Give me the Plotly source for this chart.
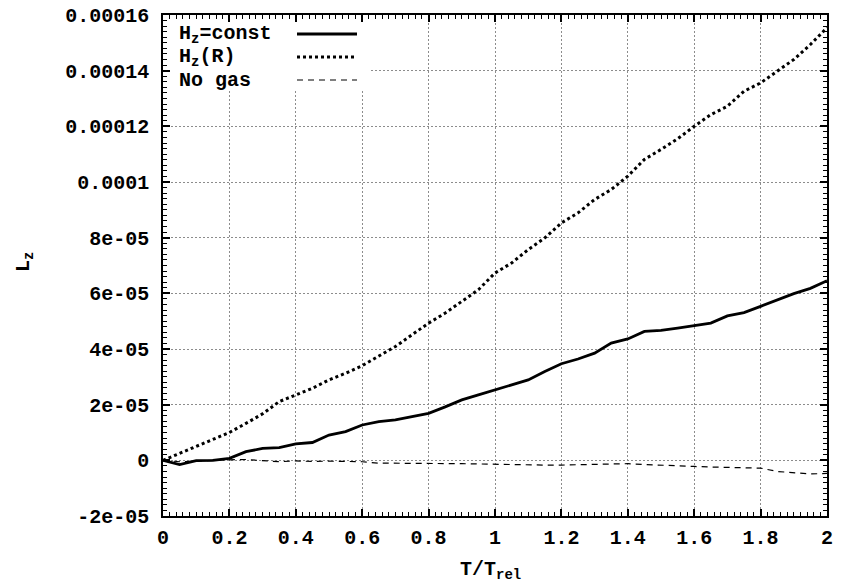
import plotly.graph_objects as go
import numpy as np

# ---- data (L_z values in units of 1e-5) ----
t_values = [0.0, 0.05, 0.1, 0.15, 0.2, 0.25, 0.3, 0.35, 0.4, 0.45, 0.5, 0.55, 0.6, 0.65, 0.7,
            0.75, 0.8, 0.85, 0.9, 0.95, 1.0, 1.05, 1.1, 1.15, 1.2, 1.25, 1.3, 1.35, 1.4, 1.45,
            1.5, 1.55, 1.6, 1.65, 1.7, 1.75, 1.8, 1.85, 1.9, 1.95, 2.0]
hz_const = [0, -0.15, -0.01, 0.0, 0.07, 0.31, 0.43, 0.46, 0.59, 0.64, 0.91, 1.03, 1.27, 1.39, 1.45,
            1.58, 1.69, 1.92, 2.17, 2.35, 2.53, 2.72, 2.89, 3.19, 3.47, 3.64, 3.85, 4.21, 4.36, 4.63,
            4.67, 4.75, 4.83, 4.93, 5.19, 5.31, 5.53, 5.77, 5.99, 6.18, 6.45]
hz_r = [0, 0.25, 0.49, 0.75, 1.0, 1.33, 1.67, 2.11, 2.35, 2.59, 2.89, 3.13, 3.4, 3.73, 4.09,
        4.51, 4.93, 5.29, 5.71, 6.13, 6.73, 7.09, 7.57, 7.99, 8.53, 8.89, 9.37, 9.73, 10.21, 10.81,
        11.17, 11.55, 12.0, 12.42, 12.72, 13.26, 13.56, 13.98, 14.4, 14.94, 15.54]
no_gas = [0, -0.05, -0.03, 0.0, 0.02, 0.03, 0.0, -0.05, -0.02, -0.04, -0.03, -0.04, -0.05, -0.1, -0.1,
          -0.1, -0.11, -0.12, -0.12, -0.13, -0.14, -0.17, -0.17, -0.17, -0.17, -0.16, -0.15, -0.13, -0.12, -0.15,
          -0.18, -0.2, -0.22, -0.24, -0.25, -0.26, -0.28, -0.4, -0.44, -0.49, -0.47]
scale = 1e-5

x_tickvals = [0, 0.2, 0.4, 0.6, 0.8, 1.0, 1.2, 1.4, 1.6, 1.8, 2.0]
x_ticktext = ["0", "0.2", "0.4", "0.6", "0.8", "1", "1.2", "1.4", "1.6", "1.8", "2"]
y_tickvals = [-2e-5, 0, 2e-5, 4e-5, 6e-5, 8e-5, 1e-4, 1.2e-4, 1.4e-4, 1.6e-4]
y_ticktext = ["-2e-05", "0", "2e-05", "4e-05", "6e-05", "8e-05", "0.0001", "0.00012", "0.00014", "0.00016"]

legend_labels = ["H<sub>z</sub>=const", "H<sub>z</sub>(R)", "No gas"]

FONT = "Liberation Mono, Courier New, monospace"
XR = [0, 2]
YR = [-2e-5, 1.6e-4]

fig = go.Figure()
t = np.array(t_values)
fig.add_trace(go.Scatter(x=t, y=np.array(hz_const) * scale, mode="lines",
                         line=dict(color="black", width=2.8), showlegend=False))
fig.add_trace(go.Scatter(x=t, y=np.array(hz_r) * scale, mode="lines",
                         line=dict(color="black", width=3, dash="3px,3px"), showlegend=False))
fig.add_trace(go.Scatter(x=t, y=np.array(no_gas) * scale, mode="lines",
                         line=dict(color="black", width=1.2, dash="6px,5px"), showlegend=False))

W, H = 842, 587
L, R, T, B = 163, 15, 15, 71
pw, ph = W - L - R, H - T - B

def px_x(px):
    return (px - L) / pw

def px_y(py):
    return (H - B - py) / ph

def dx(px):
    return XR[0] + px_x(px) * (XR[1] - XR[0])

def dy(py):
    return YR[0] + px_y(py) * (YR[1] - YR[0])

axis_common = dict(
    showline=True, linecolor="black", linewidth=1.5, mirror="allticks",
    ticks="inside", ticklen=7, tickwidth=1.5, tickcolor="black",
    showgrid=True, gridcolor="#8c8c8c", griddash="2px,2px", gridwidth=1,
    zeroline=False, automargin=False,
    tickfont=dict(family=FONT, size=20, color="black", weight="bold"),
)

fig.update_xaxes(range=XR, tickvals=x_tickvals, ticktext=x_ticktext,
                 ticklabelstandoff=2,
                 minor=dict(dtick=0.02, ticks="inside", ticklen=4, tickcolor="black", tickwidth=1, showgrid=False),
                 **axis_common)
fig.update_yaxes(range=YR, tickvals=y_tickvals, ticktext=y_ticktext,
                 ticklabelstandoff=8,
                 minor=dict(dtick=2e-6, tick0=0, ticks="inside", ticklen=4, tickcolor="black", tickwidth=1, showgrid=False),
                 **axis_common)

shapes = []
# legend background box covering the grid
shapes.append(dict(type="rect", xref="x", yref="y",
                   x0=XR[0], x1=dx(370), y0=dy(90), y1=YR[1],
                   fillcolor="white", line=dict(width=0), layer="between"))
legend_rows = [34, 57, 80]
legend_styles = [dict(color="black", width=2.8),
                 dict(color="black", width=3, dash="3px,3px"),
                 dict(color="black", width=1.2, dash="6px,5px")]
annotations = []
for lab, row, sty in zip(legend_labels, legend_rows, legend_styles):
    shapes.append(dict(type="line", xref="paper", yref="paper",
                       x0=px_x(297), x1=px_x(357), y0=px_y(row), y1=px_y(row),
                       line=sty, layer="above"))
    annotations.append(dict(text=lab, xref="paper", yref="paper",
                            x=px_x(177), y=px_y(row), xanchor="left", yanchor="middle",
                            showarrow=False,
                            font=dict(family=FONT, size=20, color="black", weight="bold")))

# axis titles
annotations.append(dict(text="T/T<sub>rel</sub>", xref="paper", yref="paper",
                        x=px_x(490), y=px_y(570), xanchor="center", yanchor="middle",
                        showarrow=False,
                        font=dict(family=FONT, size=20, color="black", weight="bold")))
annotations.append(dict(text="L<sub>z</sub>", xref="paper", yref="paper",
                        x=px_x(24), y=px_y(262), xanchor="center", yanchor="middle",
                        textangle=-90, showarrow=False,
                        font=dict(family=FONT, size=20, color="black", weight="bold")))

fig.update_layout(width=W, height=H, margin=dict(l=L, r=R, t=T, b=B, autoexpand=False),
                  plot_bgcolor="white", paper_bgcolor="white",
                  shapes=shapes, annotations=annotations, showlegend=False)

fig.write_html("out.html")
